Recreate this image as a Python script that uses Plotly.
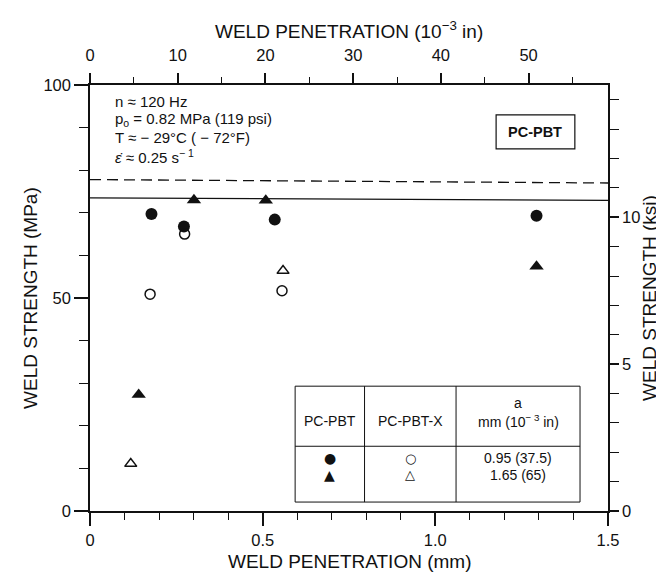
import plotly.graph_objects as go

# ---- data (weld penetration in mm, weld strength in MPa) ----
pcpbt_a095_x = [0.178, 0.272, 0.535, 1.293]
pcpbt_a095_y = [69.7, 66.8, 68.4, 69.3]

pcpbtx_a095_x = [0.174, 0.274, 0.556]
pcpbtx_a095_y = [50.9, 65.0, 51.7]

pcpbt_a165_x = [0.141, 0.301, 0.509, 1.293]
pcpbt_a165_y = [27.3, 73.0, 72.9, 57.4]

pcpbtx_a165_x = [0.118, 0.559]
pcpbtx_a165_y = [11.1, 56.4]

ref_x = [0.0, 1.5]
solid_ref_y = [73.5, 72.9]
dashed_ref_y = [77.8, 77.0]

MM_PER_MIL = 0.0254
MPA_PER_KSI = 6.895

x_range = [0, 1.5]
y_range = [0, 100]
bottom_ticks = [0, 0.5, 1.0, 1.5]
bottom_labels = ["0", "0.5", "1.0", "1.5"]
top_ticks = [0, 10, 20, 30, 40, 50]
left_ticks = [0, 50, 100]
right_ticks = [0, 5, 10]

FONT = "Liberation Sans, Arial, Helvetica, sans-serif"
BLACK = "#111111"
TICK_SIZE = 16.5
TITLE_SIZE = 19

fig = go.Figure()

fig.add_trace(go.Scatter(x=ref_x, y=solid_ref_y, mode="lines",
                         line=dict(color=BLACK, width=1.3), showlegend=False, hoverinfo="skip"))
fig.add_trace(go.Scatter(x=ref_x, y=dashed_ref_y, mode="lines",
                         line=dict(color=BLACK, width=1.3, dash="11px,6px"), showlegend=False, hoverinfo="skip"))

fig.add_trace(go.Scatter(x=pcpbt_a095_x, y=pcpbt_a095_y, mode="markers", name="PC-PBT 0.95",
                         marker=dict(symbol="circle", size=12, color=BLACK, line=dict(width=0))))
fig.add_trace(go.Scatter(x=pcpbtx_a095_x, y=pcpbtx_a095_y, mode="markers", name="PC-PBT-X 0.95",
                         marker=dict(symbol="circle-open", size=10, color=BLACK, line=dict(width=1.5))))
fig.add_trace(go.Scatter(x=pcpbt_a165_x, y=pcpbt_a165_y, mode="markers", name="PC-PBT 1.65",
                         marker=dict(symbol="triangle-up", size=12.5, color=BLACK, line=dict(width=0))))
fig.add_trace(go.Scatter(x=pcpbtx_a165_x, y=pcpbtx_a165_y, mode="markers", name="PC-PBT-X 1.65",
                         marker=dict(symbol="triangle-up-open", size=10.5, color=BLACK, line=dict(width=1.5))))

# invisible traces to activate secondary axes
fig.add_trace(go.Scatter(x=[v / MM_PER_MIL for v in x_range], y=y_range, xaxis="x2", yaxis="y",
                         mode="markers", marker=dict(opacity=0), showlegend=False, hoverinfo="skip"))
fig.add_trace(go.Scatter(x=x_range, y=[v / MPA_PER_KSI for v in y_range], xaxis="x", yaxis="y2",
                         mode="markers", marker=dict(opacity=0), showlegend=False, hoverinfo="skip"))

axis_common = dict(showgrid=False, zeroline=False, showline=True, linecolor=BLACK, linewidth=1.5,
                   ticks="outside", tickcolor=BLACK, tickwidth=1.5, automargin=False,
                   tickfont=dict(family=FONT, size=TICK_SIZE, color=BLACK))

fig.update_layout(
    width=664, height=572,
    margin=dict(l=82, r=64, t=77, b=69, autoexpand=False),
    paper_bgcolor="white", plot_bgcolor="white",
    showlegend=False,
    font=dict(family=FONT, color=BLACK),
    xaxis=dict(range=x_range, tickvals=bottom_ticks, ticktext=bottom_labels, ticklen=13,
               minor=dict(dtick=0.1, ticks="outside", ticklen=7, tickcolor=BLACK, tickwidth=1.3),
               **axis_common),
    xaxis2=dict(range=[v / MM_PER_MIL for v in x_range], overlaying="x", side="top", tickvals=top_ticks,
                ticklen=10, ticklabelstandoff=6,
                minor=dict(dtick=5, ticks="outside", ticklen=6, tickcolor=BLACK, tickwidth=1.3),
                **axis_common),
    yaxis=dict(range=y_range, tickvals=left_ticks, ticklen=14,
               minor=dict(dtick=10, ticks="outside", ticklen=9, tickcolor=BLACK, tickwidth=1.3),
               **axis_common),
    yaxis2=dict(range=[v / MPA_PER_KSI for v in y_range], overlaying="y", side="right", tickvals=right_ticks,
                ticklen=9,
                minor=dict(dtick=1, ticks="outside", ticklen=9, tickcolor=BLACK, tickwidth=1.3),
                **axis_common),
)

# ---- axis titles ----
tfont = dict(family=FONT, size=TITLE_SIZE, color=BLACK)
fig.add_annotation(x=0.5, y=-0.119, xref="paper", yref="paper", text="WELD PENETRATION (mm)",
                   showarrow=False, font=tfont, xanchor="center", yanchor="middle")
fig.add_annotation(x=0.5, y=1.129, xref="paper", yref="paper", text="WELD PENETRATION (10<sup>−3</sup> in)",
                   showarrow=False, font=tfont, xanchor="center", yanchor="middle")
fig.add_annotation(x=-0.116, y=0.5, xref="paper", yref="paper", text="WELD STRENGTH (MPa)",
                   showarrow=False, font=tfont, textangle=-90, xanchor="center", yanchor="middle")
fig.add_annotation(x=1.079, y=0.5, xref="paper", yref="paper", text="WELD STRENGTH (ksi)",
                   showarrow=False, font=tfont, textangle=-90, xanchor="center", yanchor="middle")

# ---- conditions text (top-left) ----
cond_lines = [
    (96.2, "n ≈ 120 Hz"),
    (91.8, "p<sub>o</sub> = 0.82 MPa (119 psi)"),
    (87.6, "T ≈ − 29°C ( − 72°F)"),
    (83.3, "<i>ε̇</i> ≈ 0.25 s<sup>− 1</sup>"),
]
for yv, txt in cond_lines:
    fig.add_annotation(x=0.066, y=yv, xref="x", yref="y", text=txt, showarrow=False,
                       xanchor="left", yanchor="middle", font=dict(family=FONT, size=15, color=BLACK))

# ---- PC-PBT box ----
fig.add_shape(type="rect", xref="x", yref="y", x0=1.176, x1=1.404, y0=85.0, y1=93.0,
              line=dict(color=BLACK, width=1.2), fillcolor="white")
fig.add_annotation(x=1.29, y=89.0, xref="x", yref="y", text="<b>PC-PBT</b>", showarrow=False,
                   font=dict(family=FONT, size=14.5, color=BLACK))

# ---- legend table ----
tx0, tx1, tx2, tx3 = 0.594, 0.795, 1.060, 1.419
ty_top, ty_mid, ty_bot = 29.3, 15.2, 2.1
line_style = dict(color=BLACK, width=1)
fig.add_shape(type="rect", xref="x", yref="y", x0=tx0, x1=tx3, y0=ty_bot, y1=ty_top,
              line=line_style, fillcolor="white", layer="below")
fig.add_shape(type="line", xref="x", yref="y", x0=tx1, x1=tx1, y0=ty_bot, y1=ty_top, line=line_style)
fig.add_shape(type="line", xref="x", yref="y", x0=tx2, x1=tx2, y0=ty_bot, y1=ty_top, line=line_style)
fig.add_shape(type="line", xref="x", yref="y", x0=tx0, x1=tx3, y0=ty_mid, y1=ty_mid, line=line_style)

c1 = (tx0 + tx1) / 2
c2 = (tx1 + tx2) / 2
c3 = (tx2 + tx3) / 2
tf = dict(family=FONT, size=14, color=BLACK)
fig.add_annotation(x=c1, y=21.1, xref="x", yref="y", text="PC-PBT", showarrow=False, font=tf)
fig.add_annotation(x=c2, y=21.1, xref="x", yref="y", text="PC-PBT-X", showarrow=False, font=tf)
fig.add_annotation(x=c3, y=25.4, xref="x", yref="y", text="a", showarrow=False, font=tf)
fig.add_annotation(x=c3, y=21.1, xref="x", yref="y", text="mm (10<sup>− 3</sup> in)", showarrow=False, font=tf)

row_y = [12.4, 8.5]
row_sym_pcpbt = ["●", "▲"]
row_sym_pcpbtx = ["○", "△"]
row_a = ["0.95 (37.5)", "1.65 (65)"]
for yv, s1, s2, atxt in zip(row_y, row_sym_pcpbt, row_sym_pcpbtx, row_a):
    fig.add_annotation(x=c1, y=yv, xref="x", yref="y", text=s1, showarrow=False,
                       font=dict(family="DejaVu Sans", size=14, color=BLACK))
    fig.add_annotation(x=c2, y=yv, xref="x", yref="y", text=s2, showarrow=False,
                       font=dict(family="DejaVu Sans", size=13, color=BLACK))
    fig.add_annotation(x=c3, y=yv, xref="x", yref="y", text=atxt, showarrow=False, font=tf)

fig.write_html("out.html")
